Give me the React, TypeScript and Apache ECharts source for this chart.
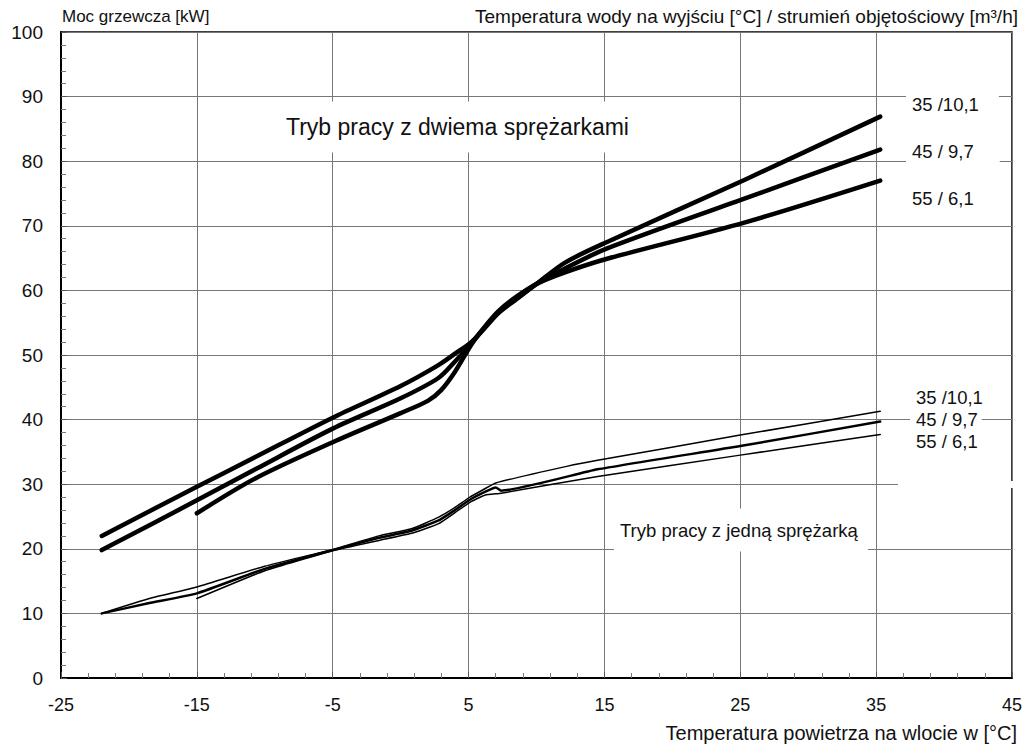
import React, { useEffect, useRef } from "react";
import * as echarts from "echarts";

// x: air inlet temperature [°C], y: heating power [kW]
const xTicks = [-25, -15, -5, 5, 15, 25, 35, 45];

// Two-compressor mode (thick)
const twoComp35: [number, number][] = [
  [-22, 22.0], [-15, 29.6], [-10.7, 34.2], [-5, 40.3], [0, 45.2], [2.75, 48.4], [4, 50.2], [5.2, 52.0],
  [6.2, 54.2], [7.2, 56.5], [8.5, 58.6], [10, 61.0], [12.1, 64.3], [15.2, 67.5], [25.3, 77.1], [35.3, 86.9],
];
const twoComp45: [number, number][] = [
  [-22, 19.8], [-15, 27.5], [-10.7, 32.3], [-5, 38.6], [0, 43.3], [2.75, 46.4], [4, 49.0], [5.2, 51.8],
  [6.2, 54.3], [7.2, 56.6], [8.5, 58.7], [10, 61.0], [12.1, 63.4], [15.2, 66.5], [25.3, 74.2], [35.3, 81.8],
];
const twoComp55: [number, number][] = [
  [-15, 25.5], [-10.7, 30.9], [-5, 36.5], [0, 41.0], [2, 42.9], [3, 44.6], [4, 47.4], [5.2, 51.6],
  [6.2, 54.4], [7.2, 56.8], [8.5, 59.0], [10, 61.0], [12.1, 62.8], [15.2, 64.9], [25.3, 70.5], [35.3, 77.0],
];

// One-compressor mode (thin)
const oneComp35: [number, number][] = [
  [-22, 10.0], [-18.5, 12.3], [-15, 14.1], [-10, 17.3], [-5, 19.9], [-1.6, 22.0], [0.8, 23.1], [2.8, 24.9],
  [4, 26.4], [5.1, 28.0], [6.2, 29.3], [7.0, 30.2], [12.3, 32.8], [14.5, 33.7], [25, 37.6], [35.3, 41.3],
];
const oneComp45: [number, number][] = [
  [-22, 10.0], [-18.5, 11.6], [-15, 13.1], [-10, 16.9], [-5, 19.8], [-1.6, 21.7], [0.8, 22.8], [2.8, 24.4],
  [4, 26.0], [5.1, 27.6], [6.2, 28.8], [7.0, 29.5], [7.4, 29.0], [14.5, 32.3], [25, 35.9], [35.3, 39.7],
];
const oneComp55: [number, number][] = [
  [-15, 12.3], [-10, 16.6], [-5, 19.7], [-1.6, 21.3], [0.8, 22.4], [2.8, 23.9], [4, 25.6], [5.1, 27.2],
  [6.2, 28.3], [7.4, 28.6], [14.5, 31.2], [25, 34.5], [35.3, 37.7],
];

const upperLabels = ["35 /10,1", "45 / 9,7", "55 / 6,1"];
const lowerLabels = ["35 /10,1", "45 / 9,7", "55 / 6,1"];

const FONT = "Liberation Sans, Arial, Helvetica, sans-serif";

export default function App() {
  const ref = useRef<HTMLDivElement>(null);
  useEffect(() => {
    if (!ref.current) return;
    const chart = echarts.init(ref.current, undefined, { renderer: "svg" });
    const thick = (name: string, data: [number, number][]) => ({
      name,
      type: "line",
      data,
      smooth: 0.3,
      showSymbol: false,
      z: 3,
      lineStyle: { color: "#000", width: 4.5, cap: "round", join: "round" },
    });
    const thin = (name: string, data: [number, number][], w: number) => ({
      name,
      type: "line",
      data,
      smooth: 0.15,
      showSymbol: false,
      z: 3,
      lineStyle: { color: "#000", width: w, cap: "round", join: "round" },
    });
    const txt = (text: string, x: number, y: number, size: number, extra: any = {}) => ({
      type: "text",
      x,
      y,
      z: 10,
      style: {
        text,
        fontFamily: FONT,
        fontSize: size,
        fill: "#111",
        textVerticalAlign: "middle",
        verticalAlign: "middle",
        ...extra,
      },
    });
    const option: any = {
      animation: false,
      backgroundColor: "#fff",
      textStyle: { fontFamily: FONT },
      grid: {
        left: 61,
        right: 7,
        top: 32,
        bottom: 69,
        show: true,
        borderColor: "#000",
        borderWidth: 1.5,
        backgroundColor: "transparent",
      },
      xAxis: {
        type: "value",
        min: -25,
        max: 45,
        interval: 10,
        axisLine: { show: true, onZero: false, lineStyle: { color: "#000", width: 2 } },
        axisTick: { show: true, inside: true, length: 6, lineStyle: { color: "#555" } },
        minorTick: { show: true, splitNumber: 5, length: 5, lineStyle: { color: "#777" } },
        axisLabel: {
          color: "#111",
          fontSize: 18,
          margin: 18,
          fontFamily: FONT,
          formatter: (v: number) => (xTicks.includes(v) ? String(v) : ""),
        },
        splitLine: { show: true, lineStyle: { color: "#777", width: 1 } },
      },
      yAxis: {
        type: "value",
        min: 0,
        max: 100,
        interval: 10,
        axisLine: { show: true, onZero: false, lineStyle: { color: "#000", width: 2 } },
        axisTick: { show: true, inside: true, length: 6, lineStyle: { color: "#555" } },
        minorTick: { show: true, splitNumber: 5, length: 5, lineStyle: { color: "#777" } },
        axisLabel: { color: "#111", fontSize: 19, margin: 18, fontFamily: FONT },
        splitLine: { show: true, lineStyle: { color: "#777", width: 1 } },
      },
      graphic: [
        { type: "rect", z: 9, shape: { x: 898, y: 481, width: 118, height: 7 }, style: { fill: "#fff" } },
        txt("Moc grzewcza [kW]", 62, 16, 17),
        txt("Temperatura wody na wyjściu [°C] / strumień objętościowy [m³/h]", 1018, 16, 19, { align: "right", textAlign: "right" }),
        txt("Temperatura powietrza na wlocie w [°C]", 1017, 733, 20, { align: "right", textAlign: "right" }),
        txt("Tryb pracy z dwiema sprężarkami", 280, 127, 23, {
          backgroundColor: "#fff",
          padding: [14, 8, 14, 6],
        }),
        txt("Tryb pracy z jedną sprężarką", 614, 530, 18.5, {
          backgroundColor: "#fff",
          padding: [12, 10, 12, 6],
        }),
        txt(upperLabels[0], 906, 104, 18.5, { backgroundColor: "#fff", padding: [3, 20, 3, 6] }),
        txt(upperLabels[1], 906, 151, 18.5, { backgroundColor: "#fff", padding: [3, 26, 3, 6] }),
        txt(upperLabels[2], 906, 198, 18.5, { backgroundColor: "#fff", padding: [3, 26, 3, 6] }),
        txt(lowerLabels[0], 910, 397, 18.5, { backgroundColor: "#fff", padding: [1, 4, 1, 6] }),
        txt(lowerLabels[1], 910, 419, 18.5, { backgroundColor: "#fff", padding: [1, 4, 1, 6] }),
        txt(lowerLabels[2], 910, 441, 18.5, { backgroundColor: "#fff", padding: [1, 4, 1, 6] }),
      ],
      series: [
        thick("2K 35/10,1", twoComp35),
        thick("2K 45/9,7", twoComp45),
        thick("2K 55/6,1", twoComp55),
        thin("1K 35/10,1", oneComp35, 1.5),
        thin("1K 45/9,7", oneComp45, 2.5),
        thin("1K 55/6,1", oneComp55, 1.5),
      ],
    };
    chart.setOption(option);
    return () => chart.dispose();
  }, []);
  return (
    <div
      ref={ref}
      style={{ position: "fixed", left: 0, top: 0, width: 1025, height: 747, background: "#fff" }}
    />
  );
}
